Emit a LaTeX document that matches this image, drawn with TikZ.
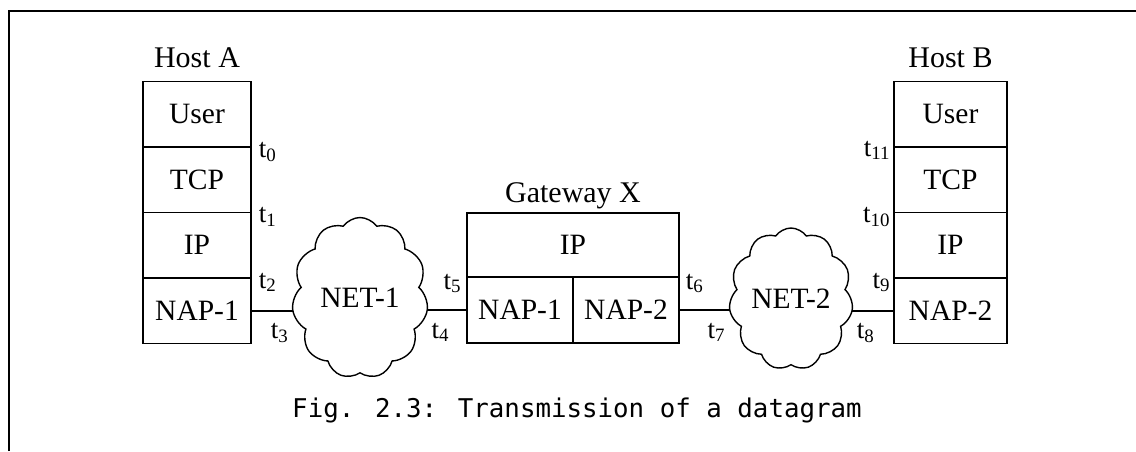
\documentclass[tikz,border=0pt]{standalone}
\usepackage{fontspec}
\setmainfont{Liberation Serif}
\newfontfamily\capfont{DejaVu Sans Mono}
\usetikzlibrary{positioning,shapes.symbols}
\newcommand{\tsub}[1]{t\textsubscript{#1}}

\begin{document}
\begin{tikzpicture}[x=1pt, y=-1pt, line width=1.8pt, node distance=0pt,
		layer/.style={draw, minimum height=65.5pt, inner sep=0pt, outer sep=0pt, font=\fontsize{29.5}{32}\selectfont},
		hostA/.style={layer, minimum width=108pt},
		hostB/.style={layer, minimum width=113pt},
		gwcell/.style={layer, minimum width=106pt, minimum height=66pt},
		title/.style={inner sep=0pt, font=\fontsize{30}{32}\selectfont},
		tlab/.style={inner sep=0pt, font=\fontsize{27}{29}\selectfont},
		net/.style={cloud, draw, line width=1.4pt, cloud puffs=11, cloud puff arc=110, inner sep=0pt, font=\fontsize{29.5}{32}\selectfont}]
	\useasboundingbox (0,0) rectangle (1136,451);
	\draw[line width=1.3pt] (9,451) -- (9,11) -- (1136,11);

	% host A
	\node[hostA] (hA1) at (197,114.25) {User};
	\node[hostA] (hA2) [below=of hA1] {TCP};
	\node[hostA] (hA3) [below=of hA2] {IP};
	\node[hostA] (hA4) [below=of hA3] {NAP-1};
	\node[title, above=14pt of hA1, anchor=base] (hAname) {Host A};

	% gateway
	\node[layer, minimum width=212pt, minimum height=64pt] (gIP) at (573,245) {IP};
	\node[gwcell] (gN1) [below right=of gIP.south west] {NAP-1};
	\node[gwcell] (gN2) [right=of gN1] {NAP-2};
	\node[title, above=11pt of gIP, anchor=base] (gname) {Gateway X};

	% host B
	\node[hostB] (hB1) at (950.5,114.25) {User};
	\node[hostB] (hB2) [below=of hB1] {TCP};
	\node[hostB] (hB3) [below=of hB2] {IP};
	\node[hostB] (hB4) [below=of hB3] {NAP-2};
	\node[title, above=14pt of hB1, anchor=base] (hBname) {Host B};

	% networks
	\node[net, minimum width=136pt, minimum height=161pt] (net1) at (360,298) {NET-1};
	\node[net, minimum width=118pt, minimum height=142pt] (net2) at (791,299) {NET-2};

	\coordinate (n1w) at (hA4.east -| net1.west);
	\coordinate (n1e) at (gN1.west -| net1.east);
	\coordinate (n2w) at (gN2.east -| net2.west);
	\coordinate (n2e) at (hB4.west -| net2.east);
	\draw (hA4.east) -- (n1w);
	\draw (n1e) -- (gN1.west);
	\draw (gN2.east) -- (n2w);
	\draw (n2e) -- (hB4.west);

	% timestamps
	\node[tlab, anchor=base west] (t0) at ([shift={(7,10)}]hA1.south east) {\tsub{0}};
	\node[tlab, anchor=base west] (t1) at ([shift={(7,10)}]hA2.south east) {\tsub{1}};
	\node[tlab, anchor=base west] (t2) at ([shift={(7,10)}]hA3.south east) {\tsub{2}};
	\node[tlab, anchor=base east] (t3) at ([shift={(-4,28)}]n1w) {\tsub{3}};
	\node[tlab, anchor=base west] (t4) at ([shift={(4,28)}]n1e) {\tsub{4}};
	\node[tlab, anchor=base east] (t5) at ([shift={(-5,12)}]gIP.south west) {\tsub{5}};
	\node[tlab, anchor=base west] (t6) at ([shift={(6,12)}]gIP.south east) {\tsub{6}};
	\node[tlab, anchor=base east] (t7) at ([shift={(-4,28)}]n2w) {\tsub{7}};
	\node[tlab, anchor=base west] (t8) at ([shift={(4,28)}]n2e) {\tsub{8}};
	\node[tlab, anchor=base east] (t9) at ([shift={(-3,10)}]hB3.south west) {\tsub{9}};
	\node[tlab, anchor=base east] (t10) at ([shift={(-3,10)}]hB2.south west) {\tsub{10}};
	\node[tlab, anchor=base east] (t11) at ([shift={(-3,9)}]hB1.south west) {\tsub{11}};

	\node[inner sep=0pt, font=\capfont\fontsize{25.8}{30}\selectfont] (caption) at (577,410) {Fig. 2.3: Transmission of a datagram};
\end{tikzpicture}
\end{document}
